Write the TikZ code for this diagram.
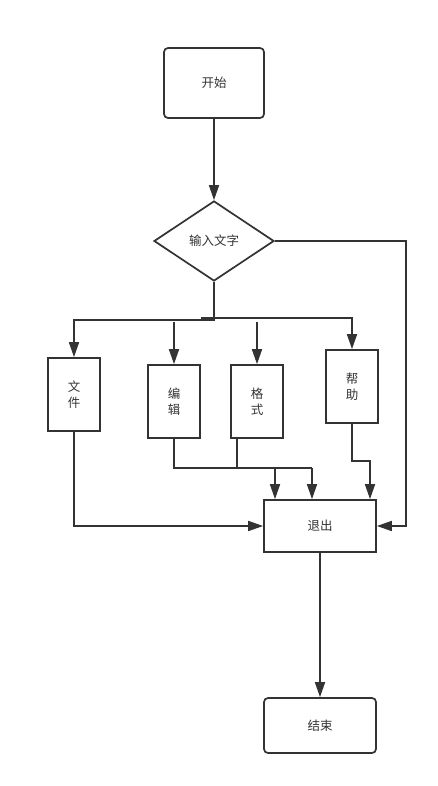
\documentclass[tikz,border=0pt]{standalone}
\usepackage{fontspec}
\setmainfont{Noto Sans CJK SC}
\usetikzlibrary{arrows.meta,shapes.geometric}
\definecolor{ln}{HTML}{333333}
\begin{document}
\begin{tikzpicture}[x=1pt,y=-1pt,
  box/.style={draw=ln,line width=1.7pt,minimum width=52pt,minimum height=73pt,inner sep=0pt,align=center,text=ln,font=\fontsize{12.5}{16}\selectfont},
  wbox/.style={draw=ln,line width=1.7pt,minimum width=112pt,minimum height=52pt,inner sep=0pt,text=ln,font=\fontsize{12.5}{16}\selectfont},
  arr/.style={draw=ln,line width=1.7pt,-{Triangle[length=15pt,width=10pt]}},
  ln2/.style={draw=ln,line width=1.7pt}]
\useasboundingbox (0,0) rectangle (438,786);
\fill[white] (0,0) rectangle (438,786);
\node[wbox,minimum width=100pt,minimum height=70pt,rounded corners=4pt] (start) at (214,83) {开始};
\node[draw=ln,line width=1.7pt,shape=diamond,minimum width=120pt,minimum height=80pt,inner sep=0pt,text=ln,font=\fontsize{12.5}{16}\selectfont] (dia) at (214,241) {输入文字};
\node[box] (wj) at (74,394.5) {文\\件};
\node[box] (bj) at (174,401.5) {编\\辑};
\node[box] (gs) at (257,401.5) {格\\式};
\node[box] (bz) at (352,386.5) {帮\\助};
\node[wbox] (tc) at (320,526) {退出};
\node[wbox,minimum height=55pt,rounded corners=4pt] (en) at (320,725.5) {结束};
\coordinate (bR) at (201,318);
\coordinate (eT) at (174,322);
\coordinate (gT) at (257,322);
\coordinate (gB) at (237,438);
\coordinate (m1) at (275,468);
\coordinate (m2) at (312,468);
\coordinate (h1) at (370,461);
\coordinate (rr) at (406,241);
\draw[arr] (start) -- (dia);
\draw[arr] (dia.south) -- ++(0,38) -| (wj.north);
\draw[arr] (bR) -| (bz.north);
\draw[arr] (eT) -- (bj.north);
\draw[arr] (gT) -- (gs.north);
\draw[ln2] (bj.south) |- (m2);
\draw[ln2] (gs.south -| gB) -- (gB |- m2);
\draw[arr] (m1) -- (tc.north -| m1);
\draw[arr] (m2) -- (tc.north -| m2);
\draw[arr] (bz.south) |- (h1) -- (tc.north -| h1);
\draw[arr] (wj.south) |- (tc.west);
\draw[arr] (dia.east) -- (rr) |- (tc.east);
\draw[arr] (tc) -- (en);
\end{tikzpicture}
\end{document}
